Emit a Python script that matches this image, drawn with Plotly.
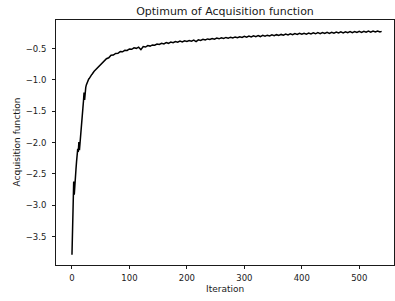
import plotly.graph_objects as go

title_text = "Optimum of Acquisition function"
x_label = "Iteration"
y_label = "Acquisition function"

iterations = list(range(0, 41)) + list(range(44, 537, 4)) + [539]

optimum = [
    -3.79, -3.25, -3.00, -2.62, -2.83, -2.63, -2.55, -2.42, -2.30, -2.22,
    -2.10, -2.15, -1.99, -2.12, -1.98, -1.85, -1.72, -1.64, -1.55, -1.45,
    -1.34, -1.20, -1.32, -1.16, -1.12, -1.08, -1.05, -1.02, -1.00, -0.99,
    -0.98, -0.96, -0.95, -0.93, -0.92, -0.91, -0.89, -0.88, -0.87, -0.86,
    -0.85,
    -0.815, -0.775, -0.728, -0.705, -0.662, -0.648, -0.608, -0.604, -0.578, -0.575,
    -0.548, -0.552, -0.528, -0.531, -0.507, -0.512, -0.488, -0.497, -0.478, -0.518,
    -0.468, -0.476, -0.452, -0.461, -0.442, -0.447, -0.428, -0.436, -0.418, -0.426,
    -0.405, -0.417, -0.398, -0.408, -0.389, -0.399, -0.382, -0.394, -0.377, -0.386,
    -0.371, -0.382, -0.366, -0.390, -0.361, -0.370, -0.353, -0.364, -0.347, -0.356,
    -0.340, -0.351, -0.334, -0.345, -0.328, -0.338, -0.323, -0.334, -0.319, -0.331,
    -0.315, -0.327, -0.312, -0.323, -0.305, -0.319, -0.302, -0.315, -0.298, -0.311,
    -0.294, -0.309, -0.290, -0.303, -0.287, -0.299, -0.282, -0.296, -0.279, -0.291,
    -0.275, -0.288, -0.270, -0.283, -0.266, -0.280, -0.262, -0.276, -0.258, -0.273,
    -0.256, -0.270, -0.253, -0.268, -0.250, -0.265, -0.247, -0.263, -0.245, -0.260,
    -0.242, -0.258, -0.240, -0.256, -0.238, -0.253, -0.235, -0.251, -0.232, -0.249,
    -0.231, -0.247, -0.229, -0.245, -0.227, -0.243, -0.225, -0.241, -0.223, -0.239,
    -0.221, -0.237, -0.220, -0.236, -0.226,
]

x_ticks = [0, 100, 200, 300, 400, 500]
y_ticks = [-3.5, -3.0, -2.5, -2.0, -1.5, -1.0, -0.5]

FONT = "DejaVu Sans"
AXIS_COLOR = "#1a1a1a"
TEXT_COLOR = "#1a1a1a"

fig = go.Figure()
fig.add_trace(go.Scatter(
    x=iterations, y=optimum, mode="lines",
    line=dict(color="black", width=1.5),
    showlegend=False, hoverinfo="skip",
))

axis_common = dict(
    showgrid=False, zeroline=False, automargin=False,
    showline=True, linecolor=AXIS_COLOR, linewidth=1, mirror=True,
    ticks="outside", ticklen=3, tickwidth=1, tickcolor=AXIS_COLOR,
    tickfont=dict(family=FONT, size=8.5, color=TEXT_COLOR),
)

fig.update_layout(
    width=395, height=301,
    margin=dict(l=56, r=1, t=20, b=36),
    paper_bgcolor="white", plot_bgcolor="white",
    font=dict(family=FONT, color=TEXT_COLOR),
    title=dict(text=title_text, x=0.5, xref="paper", xanchor="center",
               y=1 - 11 / 301, yanchor="middle", yref="container",
               font=dict(family=FONT, size=11, color=TEXT_COLOR)),
    xaxis=dict(range=[-27.8, 560.5], tickvals=x_ticks, ticktext=[str(v) for v in x_ticks],
               ticklabelstandoff=2, **axis_common),
    yaxis=dict(range=[-3.952, -0.045], tickvals=y_ticks,
               ticktext=["\u2212" + f"{abs(v):.1f}" for v in y_ticks],
               ticklabelstandoff=4, **axis_common),
    annotations=[
        dict(text=x_label, xref="paper", yref="paper", x=0.5, y=0, yshift=-24,
             showarrow=False, xanchor="center", yanchor="middle",
             font=dict(family=FONT, size=9, color=TEXT_COLOR)),
        dict(text=y_label, xref="paper", yref="paper", x=0, y=0.5, xshift=-40,
             textangle=-90, showarrow=False, xanchor="center", yanchor="middle",
             font=dict(family=FONT, size=9, color=TEXT_COLOR)),
    ],
)

fig.write_html("out.html", config={"displayModeBar": False},
               post_script="document.body.style.margin='0';")
